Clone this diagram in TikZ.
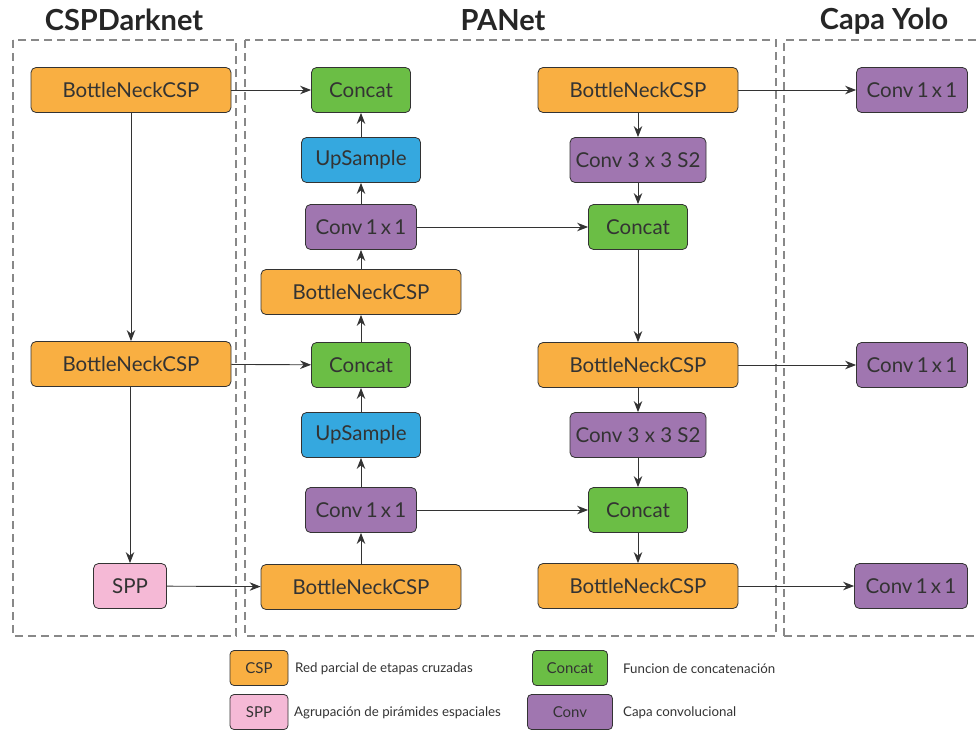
\documentclass[tikz,border=0pt]{standalone}
\usepackage{fontspec}
\setmainfont{Lato}
\usetikzlibrary{arrows.meta}
\definecolor{corange}{HTML}{F9AF42}
\definecolor{cgreen}{HTML}{6BBE45}
\definecolor{cblue}{HTML}{35A8DF}
\definecolor{cpurple}{HTML}{A076B0}
\definecolor{cpink}{HTML}{F5B9D6}
\definecolor{cline}{HTML}{333333}
\definecolor{cdash}{HTML}{888888}
\newcommand\tightspacing{\spaceskip=0.16em\relax}
\tikzset{
  blk/.style={draw=cline, rounded corners=5pt, line width=0.8pt, minimum height=45pt,
    inner sep=0pt, text=cline, font=\fontsize{20.5}{22}\selectfont},
  csp/.style={blk, fill=corange, minimum width=200pt},
  cat/.style={blk, fill=cgreen, minimum width=99pt},
  ups/.style={blk, fill=cblue, minimum width=119pt},
  cvo/.style={blk, fill=cpurple, minimum width=111pt, execute at begin node=\tightspacing},
  cvt/.style={blk, fill=cpurple, minimum width=136pt},
  spp/.style={blk, fill=cpink, minimum width=73pt},
  arr/.style={draw=cline, line width=0.9pt, -{Stealth[length=11pt,width=8.5pt]}},
  frame/.style={draw=cdash, line width=1.8pt, dash pattern=on 8pt off 5pt},
  ttl/.style={font=\fontsize{29}{32}\selectfont\bfseries, text=black!85},
  leg/.style={draw=cline, rounded corners=4pt, line width=0.8pt, minimum height=35pt,
    inner sep=0pt, text=cline, font=\fontsize{15}{17}\selectfont},
  legt/.style={anchor=west, inner sep=0pt, text=cline, font=\fontsize{13.3}{15}\selectfont}
}
\begin{document}
\begin{tikzpicture}[x=1pt,y=-1pt]
\useasboundingbox (0,0) rectangle (976,729);
% frames
\draw[frame] (13,40) rectangle (236,636);
\draw[frame] (245,40) rectangle (776,636);
\draw[frame] (784,636) -- (784,40) -- (980,40);
\draw[frame] (784,636) -- (980,636);
% titles
\node[ttl] (t1) at (124,20) {CSPDarknet};
\node[ttl] (t2) at (503,20) {PANet};
\node[ttl] (t3) at (884,21) {Capa Yolo};
% backbone
\node[csp] (b1) at (131,90) {BottleNeckCSP};
\node[csp] (b2) at (131,364) {BottleNeckCSP};
\node[spp] (spp) at (130,586) {SPP};
% PANet left
\node[cat] (c1) at (361,90) {Concat};
\node[ups] (u1) at (361,160) {UpSample};
\node[cvo] (v1) at (361,227) {Conv 1 x 1};
\node[csp] (b3) at (361,292) {BottleNeckCSP};
\node[cat] (c2) at (361,365) {Concat};
\node[ups] (u2) at (361,435) {UpSample};
\node[cvo] (v2) at (361,510) {Conv 1 x 1};
\node[csp] (b4) at (361,587) {BottleNeckCSP};
% PANet right
\node[csp] (b5) at (638,90) {BottleNeckCSP};
\node[cvt] (s1) at (638,160) {Conv 3 x 3 S2};
\node[cat] (c3) at (638,227) {Concat};
\node[csp] (b6) at (638,365) {BottleNeckCSP};
\node[cvt] (s2) at (638,435) {Conv 3 x 3 S2};
\node[cat] (c4) at (638,510) {Concat};
\node[csp] (b7) at (638,586) {BottleNeckCSP};
% Yolo
\node[cvo] (y1) at (912,90) {Conv 1 x 1};
\node[cvo] (y2) at (912,365) {Conv 1 x 1};
\node[cvo, minimum width=113pt] (y3) at (911,586) {Conv 1 x 1};
% connectors
\draw[arr] (b1) -- (c1);
\draw[arr] (b1) -- (b2);
\draw[arr] (b2) -- (c2);
\draw[arr] (b2.south -| spp) -- (spp);
\draw[arr] (spp) -- (b4);
\draw[arr] (b4) -- (v2);
\draw[arr] (v2) -- (u2);
\draw[arr] (u2) -- (c2);
\draw[arr] (c2) -- (b3);
\draw[arr] (b3) -- (v1);
\draw[arr] (v1) -- (u1);
\draw[arr] (u1) -- (c1);
\draw[arr] (v1) -- (c3);
\draw[arr] (v2) -- (c4);
\draw[arr] (b5) -- (s1);
\draw[arr] (s1) -- (c3);
\draw[arr] (c3) -- (b6);
\draw[arr] (b6) -- (s2);
\draw[arr] (s2) -- (c4);
\draw[arr] (c4) -- (b7);
\draw[arr] (b5) -- (y1);
\draw[arr] (b6) -- (y2);
\draw[arr] (b7) -- (y3);
% legend
\node[leg, fill=corange, minimum width=58pt] (l1) at (259,668) {CSP};
\node[legt] (l1t) at (295,669) {Red parcial de etapas cruzadas};
\node[leg, fill=cpink, minimum width=58pt] (l2) at (259,712) {SPP};
\node[legt] (l2t) at (294,713) {Agrupación de pirámides espaciales};
\node[leg, fill=cgreen, minimum width=75pt] (l3) at (570,668) {Concat};
\node[legt] (l3t) at (623,669) {Funcion de concatenación};
\node[leg, fill=cpurple, minimum width=85pt] (l4) at (570,712) {Conv};
\node[legt] (l4t) at (623,713) {Capa convolucional};
\end{tikzpicture}
\end{document}
